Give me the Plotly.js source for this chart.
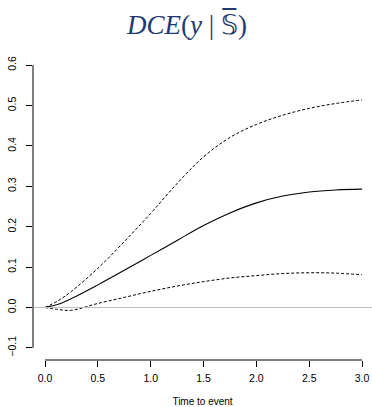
<!DOCTYPE html>
<html>
<head>
<meta charset="utf-8">
<script src="https://cdn.plot.ly/plotly-3.0.1.min.js"></script>
<style>html,body{margin:0;padding:0;background:#fff;}#chart{width:372px;height:407px;}</style>
</head>
<body>
<div id="chart"></div>
<script>
var timeToEvent = [0, 0.125, 0.25, 0.5, 0.75, 1.0, 1.25, 1.5, 1.75, 2.0, 2.25, 2.5, 2.75, 3.0];
var dceMean  = [0, 0.008, 0.022, 0.056, 0.092, 0.129, 0.166, 0.203, 0.234, 0.259, 0.276, 0.286, 0.291, 0.293];
var dceUpper = [0, 0.017, 0.040, 0.097, 0.163, 0.233, 0.307, 0.373, 0.421, 0.453, 0.476, 0.493, 0.505, 0.514];
var dceLower = [0, -0.005, -0.007, 0.010, 0.025, 0.040, 0.053, 0.064, 0.073, 0.079, 0.084, 0.086, 0.085, 0.081];
var xTicks = [0, 0.5, 1.0, 1.5, 2.0, 2.5, 3.0];
var xTickLabels = ["0.0", "0.5", "1.0", "1.5", "2.0", "2.5", "3.0"];
var yTicks = [-0.1, 0, 0.1, 0.2, 0.3, 0.4, 0.5, 0.6];
var yTickLabels = ["\u22120.1", "0.0", "0.1", "0.2", "0.3", "0.4", "0.5", "0.6"];

var traces = [
  {x: timeToEvent, y: dceUpper, mode: 'lines', line: {color: '#000', width: 1, dash: '3px,2px', shape: 'spline'}, hoverinfo: 'skip'},
  {x: timeToEvent, y: dceLower, mode: 'lines', line: {color: '#000', width: 1, dash: '3px,2px', shape: 'spline'}, hoverinfo: 'skip'},
  {x: timeToEvent, y: dceMean, mode: 'lines', line: {color: '#000', width: 1.1, shape: 'spline'}, hoverinfo: 'skip'}
];

var layout = {
  width: 372, height: 407,
  margin: {l: 33, r: 0, t: 53, b: 47, pad: 0},
  paper_bgcolor: '#fff', plot_bgcolor: '#fff',
  showlegend: false,
  font: {family: 'Liberation Sans, Arial, sans-serif', color: '#000', size: 10},
  xaxis: {
    range: [-0.1136, 3.094], showgrid: false, zeroline: false, showline: false,
    tickvals: xTicks, ticktext: xTickLabels, ticks: 'outside', ticklen: 6, tickwidth: 1, tickcolor: '#000',
    tickfont: {size: 10.5}, ticklabelstandoff: 2,
    title: {text: 'Time to event', font: {size: 10}, standoff: 18}
  },
  yaxis: {
    range: [-0.130, 0.630], showgrid: false, zeroline: false, showline: false,
    tickvals: yTicks, ticktext: yTickLabels, ticks: 'outside', ticklen: 6, tickwidth: 1, tickcolor: '#000',
    tickangle: -90, tickfont: {size: 10.5}, ticklabelstandoff: 6
  },
  shapes: [
    {type: 'line', xref: 'paper', yref: 'y', x0: 0, x1: 1, y0: 0, y1: 0, line: {color: '#bdbdbd', width: 1}},
    {type: 'line', xref: 'paper', yref: 'y', x0: 0, x1: 0, y0: -0.1, y1: 0.6, line: {color: '#000', width: 1}},
    {type: 'line', xref: 'x', yref: 'paper', x0: 0, x1: 3, y0: 0, y1: 0, line: {color: '#000', width: 1}}
  ],
  annotations: [
    {xref: 'paper', yref: 'paper', x: 0.453, y: 1, yshift: 29, xanchor: 'center', yanchor: 'middle', showarrow: false,
     text: '<i>DCE</i>(<i>y</i> | \uD835\uDD4A\u0305)',
     font: {family: 'Liberation Serif, Times New Roman, serif', size: 27, color: '#1f3a6e'}}
  ]
};

Plotly.newPlot('chart', traces, layout, {staticPlot: true, displayModeBar: false});
</script>
</body>
</html>
